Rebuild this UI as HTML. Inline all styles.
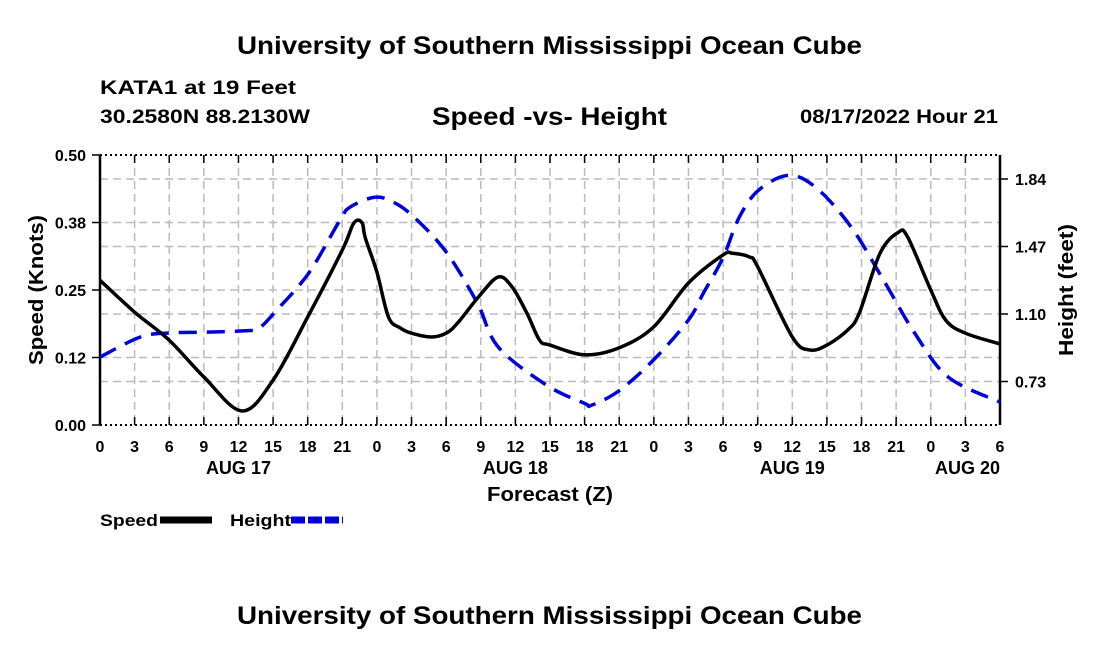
<!DOCTYPE html>
<html><head><meta charset="utf-8"><style>
body{margin:0;background:#fff;width:1100px;height:650px;overflow:hidden}
svg text{font-family:"Liberation Sans",Arial,sans-serif;font-weight:bold;fill:#000}
</style></head><body>
<svg id="chart" width="1100" height="650" viewBox="0 0 1100 650" xmlns="http://www.w3.org/2000/svg">
<text x="237" y="54" font-size="25" textLength="625" lengthAdjust="spacingAndGlyphs">University of Southern Mississippi Ocean Cube</text>
<text x="100" y="94" font-size="19" textLength="196" lengthAdjust="spacingAndGlyphs">KATA1 at 19 Feet</text>
<text x="100" y="123" font-size="19" textLength="210" lengthAdjust="spacingAndGlyphs">30.2580N  88.2130W</text>
<text x="432" y="125" font-size="25" textLength="235" lengthAdjust="spacingAndGlyphs">Speed -vs- Height</text>
<text x="800" y="123" font-size="19" textLength="198" lengthAdjust="spacingAndGlyphs">08/17/2022 Hour 21</text>
<g id="grid"></g>
<g id="axes"></g>
<g id="series"></g>
<text transform="translate(43,290) rotate(-90)" font-size="20" text-anchor="middle" textLength="150" lengthAdjust="spacingAndGlyphs">Speed (Knots)</text>
<text transform="translate(1073,290) rotate(-90)" font-size="20" text-anchor="middle" textLength="132" lengthAdjust="spacingAndGlyphs">Height (feet)</text>
<text x="487" y="501" font-size="20" textLength="126" lengthAdjust="spacingAndGlyphs">Forecast (Z)</text>
<g>
<text x="100" y="526" font-size="17" textLength="58" lengthAdjust="spacingAndGlyphs">Speed</text>
<line x1="160" y1="520" x2="212" y2="520" stroke="#000" stroke-width="7"/>
<text x="230" y="526" font-size="17" textLength="61" lengthAdjust="spacingAndGlyphs">Height</text>
<line x1="291" y1="520" x2="343" y2="520" stroke="#0000dd" stroke-width="7" stroke-dasharray="14,3"/>
</g>
<text x="237" y="624" font-size="25" textLength="625" lengthAdjust="spacingAndGlyphs">University of Southern Mississippi Ocean Cube</text>
</svg>
<script>
const xTickLabels=["0","3","6","9","12","15","18","21","0","3","6","9","12","15","18","21","0","3","6","9","12","15","18","21","0","3","6"];
const dayLabels=["AUG 17","AUG 18","AUG 19","AUG 20"];
const dayHours=[12,36,60,78];
const speedTicks=[0,0.125,0.25,0.375,0.5];
const speedTickLabels=["0.00","0.12","0.25","0.38","0.50"];
const heightTicks=[0.73,1.10,1.47,1.84];
const speedHours=[0,3,6,9,12.3,15,18,21,22,22.7,23,24,25,26,27,28.7,30,31,32.8,34.5,35.7,37,38.1,39,42,45,48,51,54,54.8,56.3,57,60,61.5,63,64.8,65.8,67.6,69.2,70,72,73.3,75,78];
const speedValues=[0.268,0.209,0.157,0.089,0.026,0.083,0.2,0.324,0.374,0.375,0.346,0.283,0.2,0.18,0.17,0.163,0.17,0.189,0.237,0.274,0.256,0.207,0.157,0.148,0.13,0.143,0.182,0.263,0.315,0.318,0.311,0.293,0.163,0.139,0.148,0.176,0.207,0.318,0.357,0.348,0.25,0.194,0.17,0.15];
const heightHours=[0,3.5,6,9,12.6,13.8,15.3,18.1,20.8,21.7,23.8,25.4,27.2,30,32.7,34.5,38.7,42,42.6,45,48,51,52.3,54,55.4,57.1,59.7,62.1,65.1,67.9,70.6,73.5,78];
const heightValues=[0.864,0.974,0.996,1.0,1.008,1.023,1.12,1.325,1.615,1.687,1.74,1.714,1.632,1.44,1.16,0.92,0.71,0.61,0.6,0.68,0.85,1.067,1.215,1.41,1.63,1.78,1.86,1.79,1.577,1.286,0.996,0.755,0.617];

const NS="http://www.w3.org/2000/svg";
const X0=100,X1=1000,Y0=425,Y1=155;
const xs=h=>X0+h*(X1-X0)/78;
const ys=v=>Y0-v*(Y0-Y1)/0.5;
const yh=h=>314-(h-1.10)/0.37*67.5;
function mk(tag,attrs,parent){const e=document.createElementNS(NS,tag);for(const k in attrs)e.setAttribute(k,attrs[k]);parent.appendChild(e);return e;}
const grid=document.getElementById('grid'),axes=document.getElementById('axes'),series=document.getElementById('series');
xTickLabels.forEach((l,i)=>{const x=xs(i*3);
 if(i>0&&i<xTickLabels.length-1){const g=mk('line',{x1:x,x2:x,y1:Y1,y2:Y0,stroke:'#bbb','stroke-width':1.5,'stroke-dasharray':'8,5'},grid);
 }
 const t=mk('text',{x:x,y:452,'font-size':16,'text-anchor':'middle'},axes);t.textContent=l;
 
 mk('line',{x1:x,x2:x,y1:Y0,y2:Y0-8,stroke:'#000','stroke-width':1.5},axes);
 mk('line',{x1:x,x2:x,y1:Y1,y2:Y1+8,stroke:'#000','stroke-width':1.5},axes);
});
dayLabels.forEach((l,i)=>{const t=mk('text',{x:i==3?1000:xs(dayHours[i]),y:474,'font-size':18,'text-anchor':i==3?'end':'middle'},axes);t.textContent=l;
 });
speedTicks.forEach((v,i)=>{const y=ys(v);
 if(i>0&&i<speedTicks.length-1){const g=mk('line',{x1:X0,x2:X1,y1:y,y2:y,stroke:'#bbb','stroke-width':1.5,'stroke-dasharray':'8,5'},grid);
 }
 mk('line',{x1:X0-8,x2:X0,y1:y,y2:y,stroke:'#000','stroke-width':1.5},axes);
 const t=mk('text',{x:86,y:y+6,'font-size':16,'text-anchor':'end'},axes);t.textContent=speedTickLabels[i];
 
});
heightTicks.forEach(h=>{const y=yh(h);
 const g=mk('line',{x1:X0,x2:X1,y1:y,y2:y,stroke:'#bbb','stroke-width':1.5,'stroke-dasharray':'8,5'},grid);
 
 mk('line',{x1:X1,x2:X1+8,y1:y,y2:y,stroke:'#000','stroke-width':1.5},axes);
 const t=mk('text',{x:1015,y:y+6,'font-size':16},axes);t.textContent=h.toFixed(2);
 
});
mk('line',{x1:X0,x2:X0,y1:Y1,y2:Y0,stroke:'#000','stroke-width':2.5},axes);
mk('line',{x1:X1,x2:X1,y1:Y1,y2:Y0,stroke:'#000','stroke-width':2.5},axes);
mk('line',{x1:X0,x2:X1,y1:Y1,y2:Y1,stroke:'#000','stroke-width':2,'stroke-dasharray':'2,3'},axes);
mk('line',{x1:X0,x2:X1,y1:Y0,y2:Y0,stroke:'#000','stroke-width':2,'stroke-dasharray':'2,3'},axes);
function smooth(pts){let d='M'+pts[0][0]+','+pts[0][1];
 for(let i=0;i<pts.length-1;i++){const p0=pts[Math.max(0,i-1)],p1=pts[i],p2=pts[i+1],p3=pts[Math.min(pts.length-1,i+2)];
 const c1=[p1[0]+(p2[0]-p0[0])/6,p1[1]+(p2[1]-p0[1])/6],c2=[p2[0]-(p3[0]-p1[0])/6,p2[1]-(p3[1]-p1[1])/6];
 d+=' C'+c1+' '+c2+' '+p2;}return d;}
const hp=mk('path',{d:smooth(heightHours.map((h,i)=>[xs(h),yh(heightValues[i])])),fill:'none',stroke:'#0000dd','stroke-width':3.5,'stroke-dasharray':'18,10'},series);

const sp=mk('path',{d:smooth(speedHours.map((h,i)=>[xs(h),ys(speedValues[i])])),fill:'none',stroke:'#000','stroke-width':3.5},series);

</script>
</body></html>
